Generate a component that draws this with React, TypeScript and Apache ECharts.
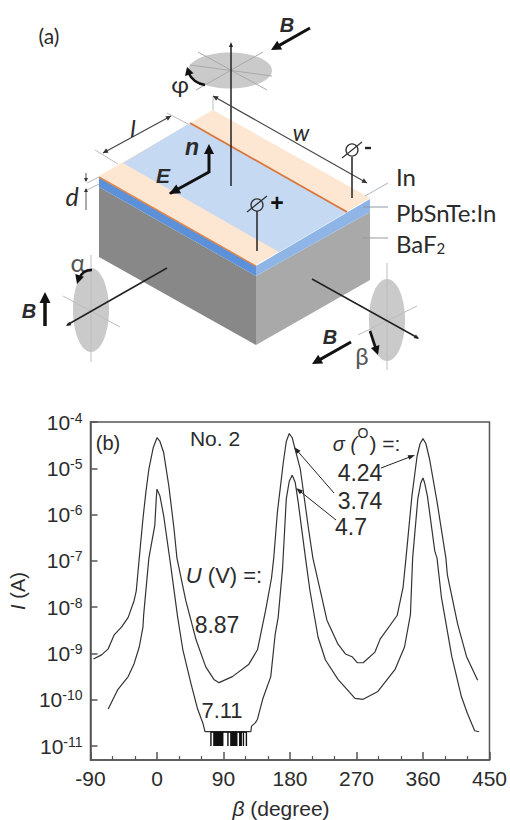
import React, { useEffect, useRef } from "react";
import * as echarts from "echarts";

// Curve U = 8.87 V: beta (degree) and log10(I / A)
const upperBeta = [-86,-75,-66,-58,-48,-39,-31,-28,-24,-19,-15,-11,-5,0,4,9,16,23,27,39,53,66,77,84,102,124,136,147,155,158,163,171,175,179,183,187,194,205,211,221,230,245,255,264,271,279,295,302,325,333,337,345,352,356,360,364,369,379,391,393,407,419,434];
const upperLogI = [-9.12,-9.03,-8.9,-8.6,-8.43,-8.22,-7.86,-7.64,-6.94,-6.09,-5.51,-5.02,-4.55,-4.34,-4.42,-4.66,-5.38,-6.3,-6.94,-7.86,-8.71,-9.29,-9.56,-9.63,-9.5,-9.24,-8.92,-8.07,-7.37,-6.94,-5.94,-4.87,-4.42,-4.25,-4.34,-4.59,-5.02,-6.3,-6.94,-7.64,-8.28,-8.8,-9.01,-9.07,-9.2,-9.2,-8.97,-8.69,-8.18,-7.58,-6.94,-5.6,-4.74,-4.47,-4.36,-4.47,-4.81,-5.72,-6.94,-7.3,-8.37,-9.07,-9.58];

// Curve U = 7.11 V
const lowerBeta = [-66,-53,-39,-31,-24,-19,-18,-11,-5,-3,-1,0,4,9,19,28,35,46,55,62,65,127,128,133,136,143,154,160,164,170,175,179,183,187,191,201,207,218,228,245,268,279,299,322,335,343,346,353,357,360,362,366,376,379,385,399,412,420,430,436];
const lowerLogI = [-10.2,-9.78,-9.5,-9.22,-8.86,-8.43,-8.16,-6.94,-6.41,-6.24,-5.66,-5.45,-5.6,-6.02,-7.15,-8.22,-8.92,-9.65,-10.2,-10.5,-10.69,-10.69,-10.57,-10.5,-10.42,-9.99,-9.5,-8.58,-8.22,-7.15,-5.66,-5.28,-5.15,-5.3,-5.72,-6.94,-7.64,-8.65,-9.14,-9.56,-9.97,-9.99,-9.82,-9.35,-8.86,-8.16,-6.94,-5.66,-5.32,-5.21,-5.3,-5.6,-6.79,-6.94,-7.79,-9.07,-9.93,-10.29,-10.67,-10.69];

// Noise-floor spikes of the 7.11 V curve
const floorBeta = [73,77,78,79,80,81,82,83,84,85,86,87,88,89,96,100,101,102,103,104,105,106,107,108,112,113,114,117,121];
const floorTop = 2e-11;
const floorBottom = 1e-11;

const xTicks = { min: -90, max: 450, interval: 90 };
const yRange = { min: 5e-12, max: 1e-4 };
const sigmaLabels = ["4.24", "3.74", "4.7"];
const voltageLabels = ["8.87", "7.11"];

const pairs = (xs: number[], ys: number[]) => xs.map((x, i) => [x, Math.pow(10, ys[i])]);
const spikes = floorBeta.flatMap((d) => [[d, floorTop], [d, floorBottom], [d, floorTop]]);

const ARIAL = '"Liberation Sans", Arial, sans-serif';
const LATO = 'Lato, "Open Sans", sans-serif';
const INK = "#2b2b2b";

const txt = (text: string, x: number, y: number, font: string, extra: any = {}, el: any = {}) => ({
  type: "text", x, y, silent: true, ...el,
  style: { text, font, fill: INK, textAlign: "center", textVerticalAlign: "middle", ...extra },
});
const seg = (x1: number, y1: number, x2: number, y2: number, stroke = "#111", lineWidth = 1.5) => ({
  type: "line", silent: true, shape: { x1, y1, x2, y2 }, style: { stroke, lineWidth },
});
const poly = (points: number[][], fill: string) => ({
  type: "polygon", silent: true, shape: { points }, style: { fill },
});
const head = (x1: number, y1: number, x2: number, y2: number, len: number, half: number, fill = "#111") => {
  const a = Math.atan2(y2 - y1, x2 - x1);
  const bx = x2 - len * Math.cos(a), by = y2 - len * Math.sin(a);
  return poly([[x2, y2], [bx + half * Math.sin(a), by - half * Math.cos(a)], [bx - half * Math.sin(a), by + half * Math.cos(a)]], fill);
};
const arrow = (x1: number, y1: number, x2: number, y2: number, w = 3, len = 10, half = 5, c = "#111") => {
  const a = Math.atan2(y2 - y1, x2 - x1);
  return [seg(x1, y1, x2 - (len - 1) * Math.cos(a), y2 - (len - 1) * Math.sin(a), c, w), head(x1, y1, x2, y2, len, half, c)];
};
const disk = (cx: number, cy: number, rx: number, ry: number) => ({
  type: "ellipse", silent: true, shape: { cx, cy, rx, ry }, style: { fill: "#cacaca" },
});
const curve = (x1: number, y1: number, cx: number, cy: number, x2: number, y2: number) => ({
  type: "bezierCurve", silent: true, shape: { x1, y1, cpx1: cx, cpy1: cy, x2, y2 },
  style: { stroke: "#111", lineWidth: 2.5, fill: "none" },
});
const SPOKE = "#a9a9a9";

const schematic: any[] = [
  txt("(a)", 49, 35, `21px ${LATO}`),
  // block
  poly([[99, 187], [256, 276], [256, 345], [99, 257]], "#888888"),
  poly([[256, 276], [370, 212], [370, 280], [256, 345]], "#a9a9a9"),
  poly([[99, 177], [256, 266], [256, 276], [99, 187]], "#5c90d8"),
  poly([[256, 266], [370, 199], [370, 212], [256, 276]], "#8fb5e6"),
  poly([[99, 176], [213, 110], [370, 198], [256, 265]], "#fde6d2"),
  poly([[123, 163], [190, 123], [347, 212], [279, 252]], "#c6d9f2"),
  seg(99, 177, 256, 266, "#e38a4c", 1.5),
  seg(190, 123, 347, 212, "#d9773a", 1.8),
  // top disk
  disk(230, 70.5, 42, 18),
  seg(198, 52, 267, 90, SPOKE, 1), seg(196, 90, 263, 52, SPOKE, 1), seg(190, 65, 272, 76, SPOKE, 1),
  seg(231, 44, 231, 186, "#222", 1.5), head(231, 50, 231, 42, 5, 2, "#222"),
  txt("φ", 180, 83, `24px ${LATO}`),
  curve(205, 85, 193, 83, 188, 72), head(190, 77, 187, 67, 8, 4.5),
  txt("B", 287, 25, `italic bold 20px ${ARIAL}`),
  ...arrow(310, 28, 271, 50),
  // dimensions
  seg(95, 150, 118, 164, "#bbb", 1), seg(167, 113, 188, 124, "#bbb", 1),
  seg(103, 153, 171, 116, "#444", 1.2), head(110, 149, 103, 153, 5, 2.5, "#333"), head(164, 120, 171, 116, 5, 2.5, "#333"),
  txt("l", 133, 127, `italic 24px ${LATO}`),
  seg(213, 97, 213, 110, "#bbb", 1),
  seg(213, 96, 367, 183, "#444", 1.2), head(220, 100, 213, 96, 5, 2.5, "#333"), head(360, 179, 367, 183, 5, 2.5, "#333"),
  txt("w", 301, 132, `italic 23px ${LATO}`),
  txt("d", 72, 196, `italic 25px ${LATO}`),
  seg(86, 173, 86, 181, "#555", 1), seg(86, 189, 86, 210, "#555", 1),
  head(86, 175, 86, 182, 4, 2, "#333"), head(86, 195, 86, 188, 4, 2, "#333"),
  seg(87, 183, 99, 177, "#bbb", 1), seg(87, 190, 99, 184, "#bbb", 1),
  // contacts
  seg(352, 157, 352, 198, "#222", 1.5),
  { type: "circle", silent: true, shape: { cx: 352, cy: 150, r: 6 }, style: { fill: "none", stroke: "#333", lineWidth: 1.3 } },
  seg(342, 158, 362, 142, "#333", 1.3),
  seg(365, 148, 371, 148, "#222", 2.4),
  seg(257, 211, 257, 251, "#222", 1.5),
  { type: "circle", silent: true, shape: { cx: 257, cy: 205, r: 6 }, style: { fill: "none", stroke: "#333", lineWidth: 1.3 } },
  seg(247, 212, 267, 196, "#333", 1.3),
  txt("+", 277, 203, `bold 23px ${ARIAL}`, { fill: "#111" }),
  // n, E
  txt("n", 192, 147, `italic bold 23px ${ARIAL}`),
  txt("E", 163, 175, `italic bold 21px ${ARIAL}`),
  seg(209, 172, 170, 193.5, "#111", 3), ...arrow(209, 173, 209, 144),
  head(182, 187, 169, 194, 11, 5),
  // left disk
  disk(91, 310, 18, 42),
  seg(91, 255, 91, 362, "#bdbdbd", 1), seg(63, 296, 120, 327, "#bdbdbd", 1),
  seg(67, 325, 167, 268, "#222", 1.5), head(71, 323, 66, 326, 5, 2, "#222"),
  txt("α", 78, 262, `25px ${LATO}`, { fill: "#555" }),
  curve(92, 270, 82, 270, 79, 279), head(80, 274, 77, 284, 9, 4.5),
  txt("B", 29, 311, `italic bold 20px ${ARIAL}`),
  ...arrow(45, 326, 45, 292, 3.5, 11, 5.5),
  // right disk
  disk(387, 320, 18, 41),
  seg(387, 263, 387, 370, "#bdbdbd", 1), seg(358, 335, 417, 306, "#bdbdbd", 1),
  seg(312, 279, 418, 338, "#222", 1.5), head(413, 335, 419, 339, 5, 2, "#222"),
  txt("β", 362, 355, `24px ${LATO}`, { fill: "#555" }),
  ...arrow(370, 331, 378, 355, 2.6, 9, 4.5),
  txt("B", 330, 337, `italic bold 20px ${ARIAL}`),
  ...arrow(351, 342, 312, 364),
  // material labels
  seg(388, 183, 365, 196, "#aab4c4", 1), seg(363, 207, 388, 207, "#8d99aa", 1), seg(362, 238, 388, 238, "#999", 1),
  txt("In", 396, 176, `24px ${LATO}`, { textAlign: "left" }),
  txt("PbSnTe:In", 396, 212, `24px ${LATO}`, { textAlign: "left" }),
  txt("BaF{s|2}", 396, 243, `24px ${LATO}`, { textAlign: "left", rich: { s: { font: `15px ${LATO}`, fill: INK, padding: [10, 0, 0, 0] } } }),
];

const annotations: any[] = [
  txt("(b)", 108, 443, `20px ${ARIAL}`),
  txt("No. 2", 215, 438, `21px ${ARIAL}`),
  txt("{i|U} (V) =:", 224, 575, `22px ${ARIAL}`, { rich: { i: { font: `italic 22px ${ARIAL}`, fill: INK } } }),
  txt(voltageLabels[0], 217, 625, `23px ${ARIAL}`),
  txt(voltageLabels[1], 222, 710, `22px ${ARIAL}`),
  txt("σ (", 345, 444, `italic 20px ${ARIAL}`),
  txt("O", 363, 433, `14px ${ARIAL}`),
  txt(") =:", 385, 443, `21px ${ARIAL}`),
  txt(sigmaLabels[0], 360, 473, `23px ${ARIAL}`),
  txt(sigmaLabels[1], 360, 501, `23px ${ARIAL}`),
  txt(sigmaLabels[2], 351, 527, `23px ${ARIAL}`),
  ...arrow(381, 468, 415, 455, 1, 7, 2.5, "#222"),
  ...arrow(334, 493, 294, 447, 1, 7, 2.5, "#222"),
  ...arrow(336, 520, 296, 488, 1, 7, 2.5, "#222"),
];

const lineStyle = { color: "#333", width: 1.2 };

export default function App() {
  const ref = useRef<HTMLDivElement>(null);
  useEffect(() => {
    const chart = echarts.init(ref.current!, undefined, { renderer: "svg" });
    chart.setOption({
      animation: false,
      backgroundColor: "#fff",
      textStyle: { fontFamily: ARIAL },
      grid: { left: 89, right: 20, top: 422, bottom: 56, show: true, borderColor: "#555", borderWidth: 1.5 },
      xAxis: {
        type: "value", ...xTicks,
        name: "{i|β} (degree)",
        nameLocation: "middle", nameGap: 38,
        nameTextStyle: { color: INK, fontSize: 21, padding: [0, 18, 0, 0], rich: { i: { fontStyle: "italic", fontSize: 21, color: INK } } },
        axisLine: { onZero: false, lineStyle: { color: "#555", width: 1.5 } },
        axisTick: { inside: true, length: 8, lineStyle: { color: "#555", width: 1.5 } },
        minorTick: { show: true, splitNumber: 3, length: 4, lineStyle: { color: "#555", width: 1.2 } },
        axisLabel: { color: INK, fontSize: 21, margin: 8 },
        splitLine: { show: false },
      },
      yAxis: {
        type: "log", logBase: 10, ...yRange,
        name: "{i|I} (A)",
        nameLocation: "middle", nameGap: 43,
        nameTextStyle: { color: INK, fontSize: 20, rich: { i: { fontStyle: "italic", fontSize: 20, color: INK } } },
        axisLine: { onZero: false, lineStyle: { color: "#555", width: 1.5 } },
        axisTick: { inside: true, length: 7, lineStyle: { color: "#555", width: 1.5 } },
        axisLabel: {
          color: INK, fontSize: 21, margin: 8, showMinLabel: false,
          formatter: (v: number) => {
            const e = Math.log10(v);
            if (Math.abs(e - Math.round(e)) > 0.01) return "";
            return `{b|10}{s|${Math.round(e)}}`;
          },
          rich: {
            b: { fontSize: 21, color: INK },
            s: { fontSize: 14, color: INK, padding: [0, 0, 9, 0] },
          },
        },
        splitLine: { show: false },
        minorTick: { show: false },
      },
      series: [
        { name: "8.87 V", type: "line", data: pairs(upperBeta, upperLogI), showSymbol: false, lineStyle, silent: true },
        { name: "7.11 V", type: "line", data: pairs(lowerBeta, lowerLogI), showSymbol: false, lineStyle, silent: true },
        { name: "7.11 V floor", type: "line", data: spikes, showSymbol: false, lineStyle: { color: "#111", width: 1.4 }, silent: true },
      ],
      graphic: { elements: [...schematic, ...annotations] },
    });
    return () => chart.dispose();
  }, []);
  return <div ref={ref} style={{ position: "fixed", left: 0, top: 0, width: 510, height: 820 }} />;
}
